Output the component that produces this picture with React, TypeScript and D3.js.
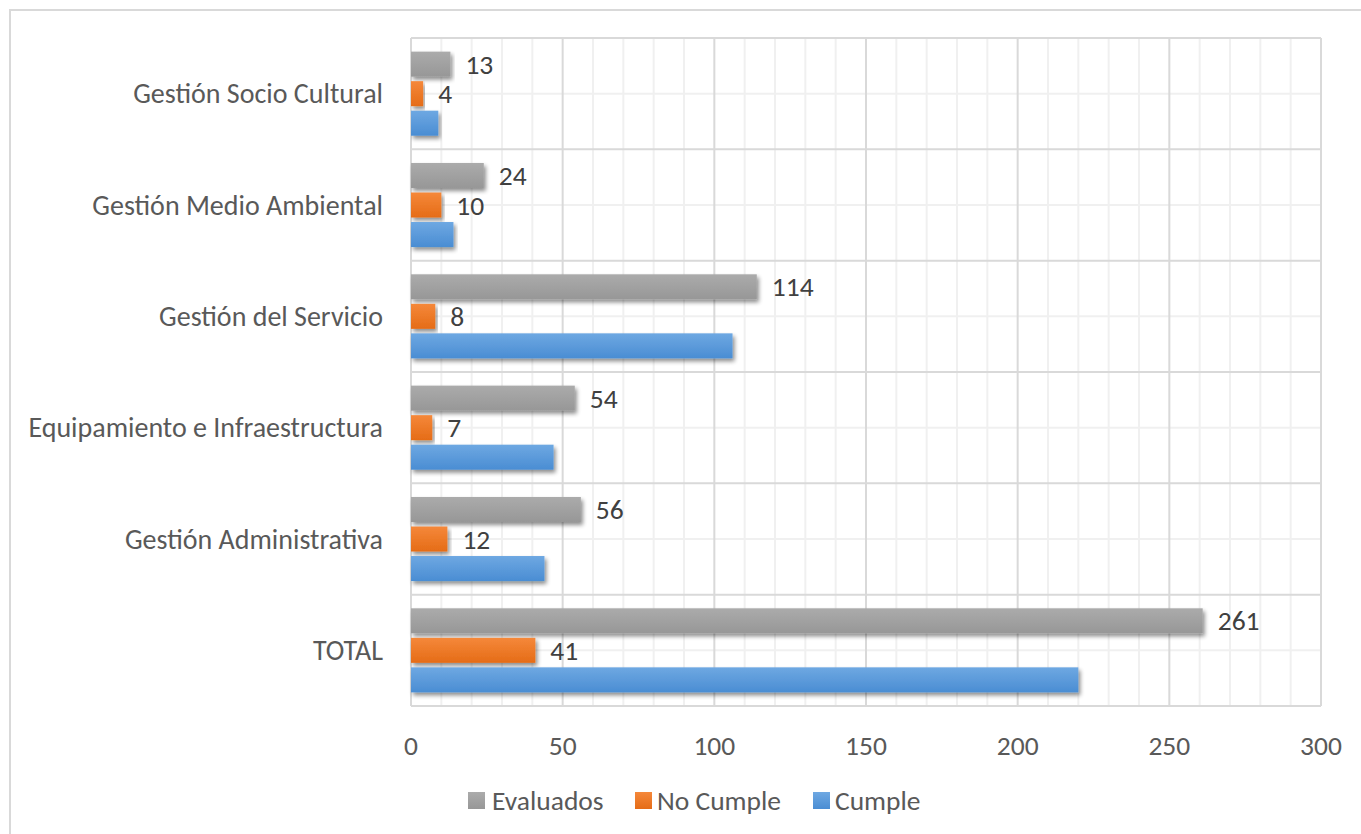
import React from "react";
import * as d3 from "d3";

const categories = [
  "Gestión Socio Cultural",
  "Gestión Medio Ambiental",
  "Gestión del Servicio",
  "Equipamiento e Infraestructura",
  "Gestión Administrativa",
  "TOTAL",
];
const evaluados = [13, 24, 114, 54, 56, 261];
const noCumple = [4, 10, 8, 7, 12, 41];
const cumple = [9, 14, 106, 47, 44, 220];
const xTicks = [0, 50, 100, 150, 200, 250, 300];

const seriesNames = ["Evaluados", "No Cumple", "Cumple"];
const seriesData = [evaluados, noCumple, cumple];
const showLabels = [true, true, false];
const gradients = [
  ["#ababab", "#979797"],
  ["#f5883a", "#e56c17"],
  ["#6ea8e2", "#4a8dd3"],
];

const W = 1361;
const H = 834;
const FONT = "Carlito, Calibri, Lato, 'Open Sans', sans-serif";
const FS = 27.5;
const FS_CAT = 28;

export default function App() {
  const left = 411;
  const right = 1321;
  const top = 38;
  const bottom = 706;

  const x = d3.scaleLinear().domain([0, 300]).range([left, right]);
  const y = d3
    .scaleBand<string>()
    .domain(categories)
    .range([top, bottom])
    .paddingInner(0.245)
    .paddingOuter(0.1225);
  const yi = d3
    .scaleBand<string>()
    .domain(seriesNames)
    .range([0, y.bandwidth()])
    .paddingInner(0.1525)
    .paddingOuter(0);

  const minorTicks = d3.range(0, 301, 10);
  const step = y.step();
  const bandLines = d3.range(0, categories.length + 1).map((i) => top + i * step);
  const midLines = d3.range(0, categories.length).map((i) => top + (i + 0.5) * step);

  const legendItems = [
    { name: "Evaluados", sx: 468, tx: 492 },
    { name: "No Cumple", sx: 635, tx: 657 },
    { name: "Cumple", sx: 813, tx: 835 },
  ];

  return (
    <svg
      width={W}
      height={H}
      style={{ position: "absolute", left: 0, top: 0, background: "#fff" }}
      fontFamily={FONT}
    >
      <defs>
        {gradients.map((g, i) => (
          <linearGradient key={i} id={`grad${i}`} x1="0" y1="0" x2="0" y2="1">
            <stop offset="0%" stopColor={g[0]} />
            <stop offset="100%" stopColor={g[1]} />
          </linearGradient>
        ))}
        <filter id="shadow" x="-5%" y="-30%" width="115%" height="190%">
          <feGaussianBlur in="SourceAlpha" stdDeviation="2.2" />
          <feOffset dx="2" dy="3" result="blur" />
          <feComponentTransfer>
            <feFuncA type="linear" slope="0.45" />
          </feComponentTransfer>
          <feMerge>
            <feMergeNode />
            <feMergeNode in="SourceGraphic" />
          </feMerge>
        </filter>
      </defs>
      <rect x={0} y={0} width={W} height={H} fill="#fff" />
      <path d={`M10,${H} L10,10 L${W},10`} fill="none" stroke="#d9d9d9" strokeWidth={2} />

      {minorTicks
        .filter((t) => t % 50 !== 0)
        .map((t) => (
          <line key={`mv${t}`} x1={x(t)} x2={x(t)} y1={top} y2={bottom} stroke="#f0f0f0" strokeWidth={2} />
        ))}
      {midLines.map((yy, i) => (
        <line key={`mh${i}`} x1={left} x2={right} y1={yy} y2={yy} stroke="#f0f0f0" strokeWidth={2} />
      ))}
      {xTicks.map((t) => (
        <line key={`v${t}`} x1={x(t)} x2={x(t)} y1={top} y2={bottom} stroke="#d9d9d9" strokeWidth={2} />
      ))}
      {bandLines.map((yy, i) => (
        <line key={`h${i}`} x1={left} x2={right} y1={yy} y2={yy} stroke="#d9d9d9" strokeWidth={2} />
      ))}

      {categories.map((c, ci) => (
        <g key={c}>
          {seriesNames.map((s, si) => {
            const v = seriesData[si][ci];
            const by = (y(c) ?? 0) + (yi(s) ?? 0);
            return (
              <rect
                key={s}
                x={x(0)}
                y={by}
                width={x(v) - x(0)}
                height={yi.bandwidth()}
                fill={`url(#grad${si})`}
                filter="url(#shadow)"
              />
            );
          })}
        </g>
      ))}

      {categories.map((c, ci) =>
        seriesNames.map((s, si) => {
          if (!showLabels[si]) return null;
          const v = seriesData[si][ci];
          const by = (y(c) ?? 0) + (yi(s) ?? 0) + yi.bandwidth() / 2;
          return (
            <text key={`${c}-${s}`} x={x(v) + 15} y={by} dy="0.35em" fontSize={FS} fill="#404040">
              {v}
            </text>
          );
        })
      )}

      {categories.map((c) => (
        <text
          key={c}
          x={left - 28}
          y={(y(c) ?? 0) + y.bandwidth() / 2}
          dy="0.35em"
          textAnchor="end"
          fontSize={FS_CAT}
          fill="#595959"
        >
          {c}
        </text>
      ))}

      {xTicks.map((t) => (
        <text key={t} x={x(t)} y={745} dy="0.35em" textAnchor="middle" fontSize={FS} fill="#595959">
          {t}
        </text>
      ))}

      {legendItems.map((l, i) => (
        <g key={l.name}>
          <rect x={l.sx} y={792} width={17} height={17} fill={`url(#grad${i})`} />
          <text x={l.tx} y={800} dy="0.35em" fontSize={FS} fill="#595959">
            {l.name}
          </text>
        </g>
      ))}
    </svg>
  );
}
